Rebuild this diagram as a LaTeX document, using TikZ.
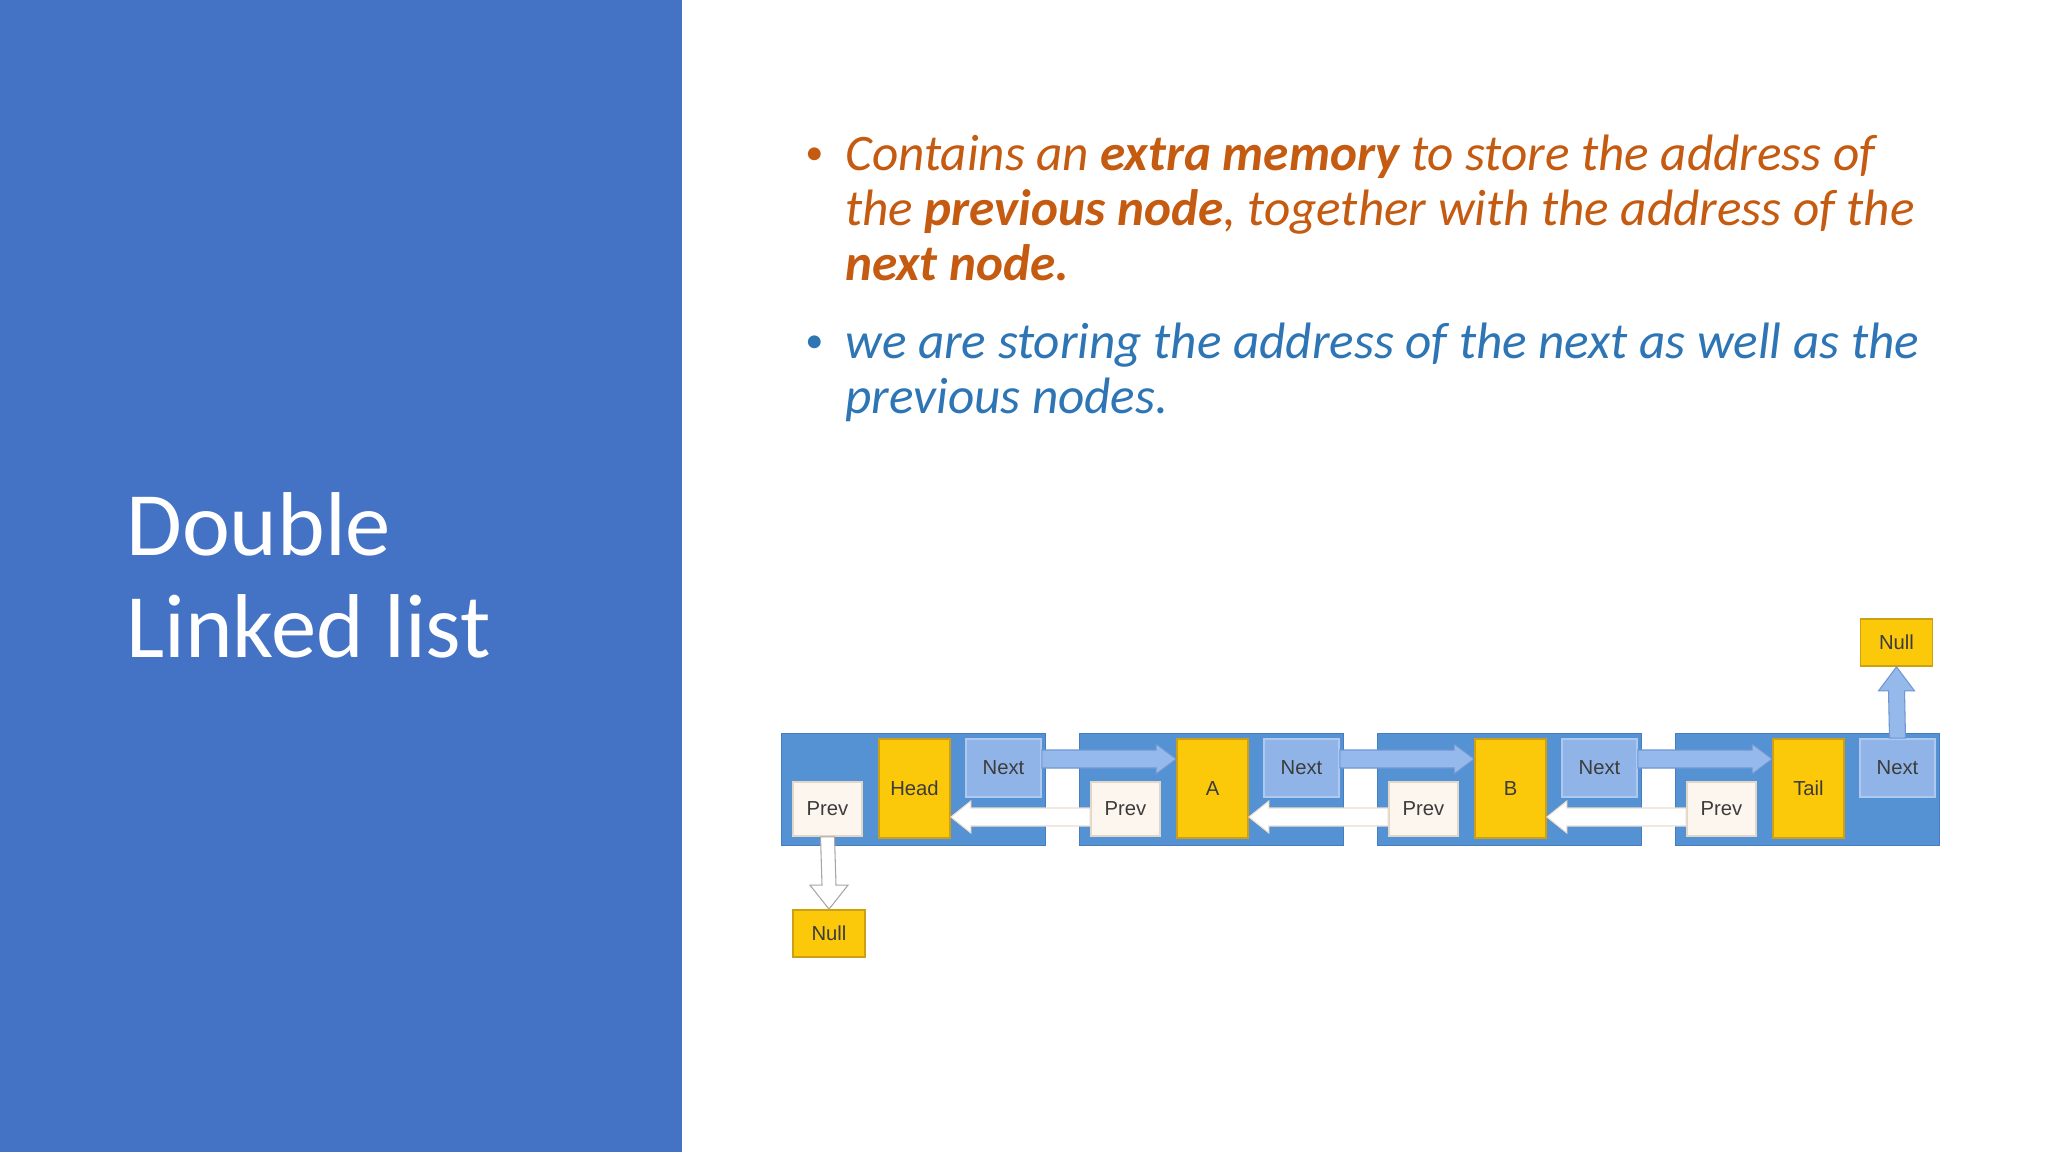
\documentclass[tikz,border=0pt]{standalone}
\usepackage{fontspec}
\setmainfont{Carlito}
\newfontfamily\diagfont{Liberation Sans}
\usetikzlibrary{calc}
\definecolor{panel}{HTML}{4472C4}
\definecolor{orangetxt}{HTML}{C55A11}
\definecolor{bluetxt}{HTML}{2E75B6}
\definecolor{nodeblue}{RGB}{84,146,212}
\definecolor{nodeblueedge}{RGB}{70,125,190}
\definecolor{yel}{RGB}{252,200,10}
\definecolor{yeledge}{RGB}{205,160,20}
\definecolor{nextfill}{RGB}{145,180,232}
\definecolor{nextedge}{RGB}{175,200,240}
\definecolor{prevfill}{RGB}{252,246,238}
\definecolor{prevedge}{RGB}{225,215,200}
\definecolor{arrblue}{RGB}{150,185,235}
\definecolor{arrblueedge}{RGB}{110,150,210}
\definecolor{arrwhiteedge}{RGB}{235,220,205}
\definecolor{labtxt}{RGB}{60,60,60}
\tikzset{
  box/.style={inner sep=0pt, font=\diagfont\fontsize{9.5}{11}\selectfont, text=labtxt},
  listnode/.style={fill=nodeblue, draw=nodeblueedge, line width=0.4pt, minimum width={264*0.46875pt}, minimum height={112*0.46875pt}, inner sep=0pt},
  prevbox/.style={box, fill=prevfill, draw=prevedge, line width=0.8pt, minimum width={69*0.46875pt}, minimum height={54*0.46875pt}},
  databox/.style={box, fill=yel, draw=yeledge, line width=0.8pt, minimum width={71*0.46875pt}, minimum height={99*0.46875pt}},
  nextbox/.style={box, fill=nextfill, draw=nextedge, line width=0.8pt, minimum width={75*0.46875pt}, minimum height={58*0.46875pt}},
  nullbox/.style={box, fill=yel, draw=yeledge, line width=0.8pt, minimum width={72*0.46875pt}, minimum height={47*0.46875pt}},
  nextarrow/.style={fill=arrblue, draw=arrblueedge, line width=0.5pt},
  prevarrow/.style={fill=white, draw=arrwhiteedge, line width=0.5pt},
  title/.style={anchor=base west, inner sep=0pt, text=white, font=\fontsize{42.5}{48}\selectfont},
  bodyo/.style={anchor=base west, inner sep=0pt, text=orangetxt, font=\fontsize{24}{26}\selectfont\itshape},
  bodyb/.style={anchor=base west, inner sep=0pt, text=bluetxt, font=\fontsize{24}{26}\selectfont\itshape},
  bul/.style={anchor=base west, inner sep=0pt, font=\fontsize{17}{20}\selectfont}
}
\begin{document}
\begin{tikzpicture}[x=0.46875pt, y=-0.46875pt]
\useasboundingbox (0,0) rectangle (2048,1152);
\fill[white] (0,0) rectangle (2048,1152);
\fill[panel] (0,0) rectangle (682,1152);

% title
\node[title] (t1) at (126,555) {Double};
\node[title] (t2) at (126,657) {Linked list};

% bullets
\node[bul, text=orangetxt] (b1) at (805,165) {•};
\node[bodyo] (l1) at (845,171) {Contains an \textbf{extra memory} to store the address of};
\node[bodyo] (l2) at (845,226) {the \textbf{previous node}, together with the address of the};
\node[bodyo] (l3) at (845,281) {\textbf{next node.}};
\node[bul, text=bluetxt] (b2) at (805,352) {•};
\node[bodyb] (l4) at (845,358) {we are storing the address of the next as well as the};
\node[bodyb] (l5) at (845,413) {previous nodes.};

% list nodes
\foreach \i/\lab in {0/Head,1/A,2/B,3/Tail}{
  \pgfmathsetmacro{\L}{781+298*\i}
  \node[listnode] (n\i) at (\L+132,789) {};
  \node[prevbox] (p\i) at (\L+46.5,809) {Prev};
  \node[databox] (d\i) at (\L+133.5,788.5) {\lab};
  \node[nextbox] (x\i) at (\L+222.5,768) {Next};
}

% null nodes
\node[nullbox] (nullb) at (829,933.5) {Null};
\node[nullbox] (nullt) at (1896.5,642.5) {Null};

% next arrows (blue, rightward)
\foreach \a/\b in {0/1,1/2,2/3}{
  \coordinate (s\a) at (x\a.east |- 0,759);
  \coordinate (e\a) at (d\b.west |- 0,759);
  \draw[nextarrow] ($(s\a)+(0,-9)$) -- ($(e\a)+(-20,-9)$) -- ($(e\a)+(-20,-15)$) -- (e\a)
     -- ($(e\a)+(-20,15)$) -- ($(e\a)+(-20,9)$) -- ($(s\a)+(0,9)$) -- cycle;
}

% prev arrows (white, leftward)
\foreach \a/\b in {1/0,2/1,3/2}{
  \coordinate (ps\a) at (p\a.west |- 0,817);
  \coordinate (pe\a) at (d\b.east |- 0,817);
  \draw[prevarrow] ($(ps\a)+(0,-9)$) -- ($(pe\a)+(20,-9)$) -- ($(pe\a)+(20,-16)$) -- (pe\a)
     -- ($(pe\a)+(20,16)$) -- ($(pe\a)+(20,9)$) -- ($(ps\a)+(0,9)$) -- cycle;
}

% down arrow from first Prev to Null
\coordinate (dn0) at (p0.south);
\coordinate (dn1) at (nullb.north);
\draw[prevarrow, draw=gray!70] ($(dn0)+(-7,0)$) -- ($(dn1)+(-7,-24)$) -- ($(dn1)+(-19,-24)$) -- (dn1)
   -- ($(dn1)+(19,-24)$) -- ($(dn1)+(7,-24)$) -- ($(dn0)+(7,0)$) -- cycle;

% up arrow from last Next to Null
\coordinate (up0) at (x3.north);
\coordinate (up1) at (nullt.south);
\draw[nextarrow] ($(up0)+(-8,0)$) -- ($(up1)+(-8,24)$) -- ($(up1)+(-18,24)$) -- (up1)
   -- ($(up1)+(18,24)$) -- ($(up1)+(8,24)$) -- ($(up0)+(8,0)$) -- cycle;
\end{tikzpicture}
\end{document}
